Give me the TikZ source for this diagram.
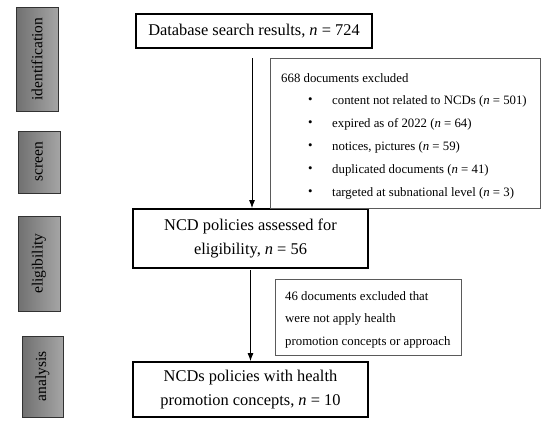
\documentclass[tikz,border=0pt]{standalone}
\usepackage{fontspec}
\setmainfont{Liberation Serif}
\usetikzlibrary{arrows.meta,positioning}
\definecolor{stagetop}{RGB}{165,165,165}
\definecolor{stagebot}{RGB}{112,112,112}
\definecolor{stageline}{RGB}{50,50,50}
\definecolor{exline}{RGB}{90,90,90}
\tikzset{
  stagebox/.style={draw=stageline, line width=0.8pt, right color=stagetop, left color=stagebot,
    rotate=90, font=\fontsize{15.5}{17}\selectfont, text=black, inner sep=0pt},
  mainbox/.style={draw=black, line width=1.8pt},
  maintext/.style={font=\fontsize{16.4}{24}\selectfont, align=center},
  exbox/.style={draw=exline, line width=0.6pt},
  extext/.style={font=\fontsize{12.8}{23}\selectfont, anchor=west, inner sep=0pt},
  flow/.style={line width=0.8pt, -{Latex[length=8pt,width=6pt]}}
}
\begin{document}
\begin{tikzpicture}[x=1pt,y=-1pt]
\useasboundingbox (0,0) rectangle (550,426);
% stage boxes
\node[stagebox, minimum height=42pt, minimum width=104pt] (sid) at (37,59) {identification};
\node[stagebox, minimum height=42pt, minimum width=62pt] (ssc) at (39,162) {screen};
\node[stagebox, minimum height=42pt, minimum width=95pt] (sel) at (39,263.5) {eligibility};
\node[stagebox, minimum height=41pt, minimum width=81pt] (san) at (42.5,376.5) {analysis};
% main boxes
\node[mainbox, minimum width=236pt, minimum height=34pt] (db) at (254,31) {};
\node[maintext] at (db) {Database search results, \textit{n} = 724};
\node[mainbox, minimum width=235pt, minimum height=59pt] (el) at (250.5,238.5) {};
\node[maintext] at (el) {NCD policies assessed for\\eligibility, \textit{n} = 56};
\node[mainbox, minimum width=235pt, minimum height=55pt] (an) at (250.5,389.5) {};
\node[maintext] at (an) {NCDs policies with health\\promotion concepts, \textit{n} = 10};
% exclusion boxes
\node[exbox, minimum width=270pt, minimum height=150pt] (ex1) at (405,133) {};
\node[extext] (e0) at (281,78) {668 documents excluded};
\foreach \y/\t [count=\i] in {101/{content not related to NCDs (\textit{n} = 501)},
  124/{expired as of 2022 (\textit{n} = 64)},
  147/{notices, pictures (\textit{n} = 59)},
  170/{duplicated documents (\textit{n} = 41)},
  193/{targeted at subnational level (\textit{n} = 3)}} {
  \node[extext] (b\i) at (308,\y) {•};
  \node[extext] (t\i) at (332,\y) {\t};
}
\node[exbox, minimum width=186pt, minimum height=76pt] (ex2) at (368.5,317) {};
\node[extext] (x1) at (285,296) {46 documents excluded that};
\node[extext] (x2) at (285,319) {were not apply health};
\node[extext] (x3) at (285,342) {promotion concepts or approach};
% arrows
\coordinate (a1s) at (252,58);
\coordinate (a2s) at (250.5,270);
\draw[flow] (a1s) -- (a1s |- el.north);
\draw[flow] (a2s) -- (a2s |- an.north);
\end{tikzpicture}
\end{document}
